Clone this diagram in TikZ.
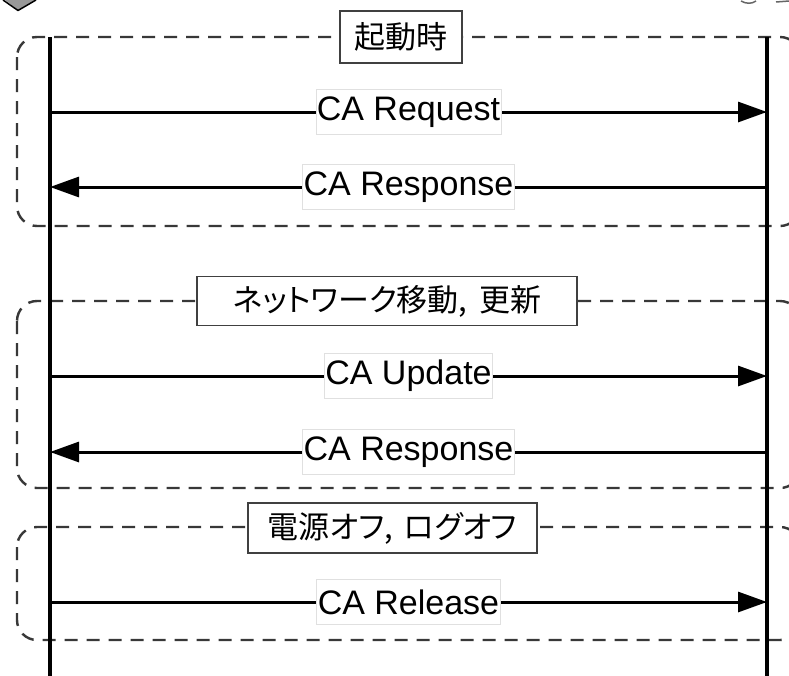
\documentclass[tikz,border=0pt]{standalone}
\usepackage{fontspec}
\setmainfont{Liberation Sans}
\newfontfamily\jp[RawFeature=+palt]{Noto Sans CJK JP}
\usetikzlibrary{arrows.meta}
\begin{document}
\begin{tikzpicture}[x=1pt,y=-1pt,
  group/.style={draw=black!78, line width=2.4pt, dash pattern=on 13pt off 9pt, rounded corners=20pt},
  lifeline/.style={line width=3.8pt},
  msg/.style={line width=3pt, -{Triangle[length=29pt,width=20pt]}},
  lbl/.style={fill=white, draw=black!12, line width=0.6pt, inner xsep=1pt, inner ysep=0pt,
    minimum height=45pt, font=\fontsize{34}{40}\selectfont},
  titlebox/.style={fill=white, draw=black!75, line width=1.5pt, inner sep=0pt,
    font=\jp\fontsize{31}{36}\selectfont}]
\useasboundingbox (0,0) rectangle (789,675);
\clip (0,0) rectangle (789,675);
\fill[white] (0,0) rectangle (789,675);

% partial icons at the top
\fill[black!40] (5,0) -- (18,10) -- (35,0) -- cycle;
\draw[line width=1.5pt, line join=round] (3,0) -- (18,10.5) -- (36,0);
\draw[black!60, line width=1.5pt] (741,1) .. controls (746,4) and (752,4) .. (756,1);
\draw[black!60, line width=1.5pt] (776,2) -- (789,1);

% groups
\draw[group] (17,37) rectangle (800,226);
\draw[group] (17,301) rectangle (800,488);
\draw[group] (17,527) rectangle (800,640);

% lifelines
\coordinate (Lt) at (50,37);
\coordinate (Lb) at (50,676);
\coordinate (Rt) at (767,37);
\coordinate (Rb) at (767,676);
\draw[lifeline] (Lt) -- (Lb);
\draw[lifeline] (Rt) -- (Rb);

% group titles
\node[titlebox, minimum width=122pt, minimum height=52pt] (t1) at (401,37) {起動時};
\node[titlebox, minimum width=380pt, minimum height=49pt] (t2) at (387,301) {ネットワーク移動,\hspace{0.15em} 更新};
\node[titlebox, minimum width=289pt, minimum height=50pt] (t3) at (392.5,528) {電源オフ,\hspace{0.15em} ログオフ};

% messages
\coordinate (m1l) at (50,112);  \coordinate (m1r) at (767,112);
\coordinate (m2l) at (50,187);  \coordinate (m2r) at (767,187);
\coordinate (m3l) at (50,376);  \coordinate (m3r) at (767,376);
\coordinate (m4l) at (50,452);  \coordinate (m4r) at (767,452);
\coordinate (m5l) at (50,602);  \coordinate (m5r) at (767,602);

\draw[msg] (m1l) -- node[lbl] (l1) {CA Request} (m1r);
\draw[msg] (m2r) -- node[lbl] (l2) {CA Response} (m2l);
\draw[msg] (m3l) -- node[lbl] (l3) {CA Update} (m3r);
\draw[msg] (m4r) -- node[lbl] (l4) {CA Response} (m4l);
\draw[msg] (m5l) -- node[lbl] (l5) {CA Release} (m5r);
\end{tikzpicture}
\end{document}
